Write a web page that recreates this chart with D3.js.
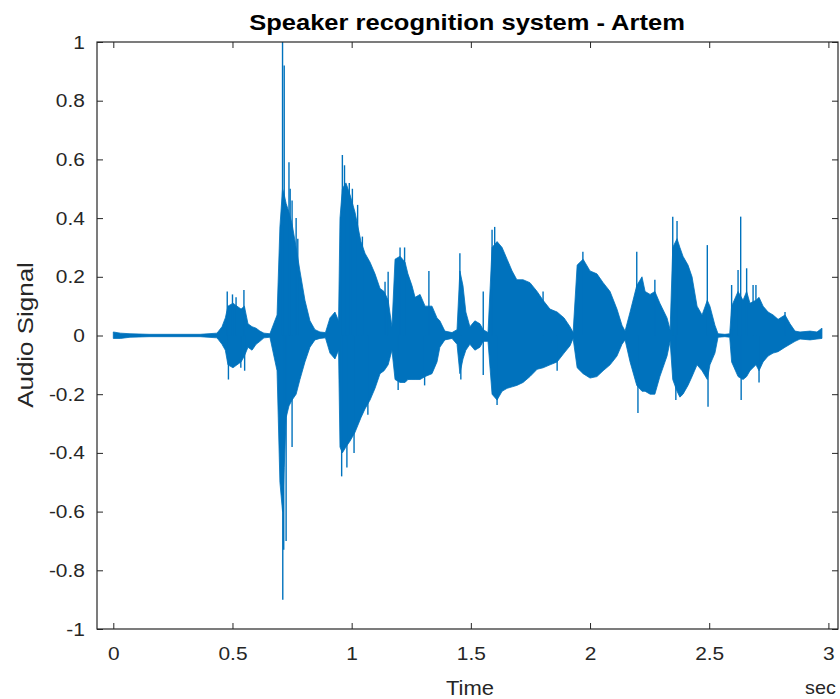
<!DOCTYPE html>
<html lang="en">
<head>
    <meta charset="UTF-8">
    <title>Speaker recognition system - Artem</title>
    <script src="https://d3js.org/d3.v7.min.js"></script>
    <style>
        body { margin: 0; background: #fff; }
        svg { display: block; font-family: "Liberation Sans", Arial, sans-serif; }
    </style>
</head>
<body>

<svg class="canvas" width="840" height="699"></svg>

<script>

    // envelope of the recording (seconds, max, min)
    var envTime = [0, 0.03, 0.07, 0.15, 0.28, 0.364, 0.435, 0.456, 0.47, 0.481,
        0.502, 0.519, 0.536, 0.55, 0.565, 0.582, 0.599, 0.615, 0.632, 0.657,
        0.687, 0.699, 0.71, 0.717, 0.725, 0.737, 0.75, 0.767, 0.783, 0.804,
        0.825, 0.846, 0.867, 0.89, 0.909, 0.93, 0.945, 0.951, 0.961, 0.976,
        0.993, 1.014, 1.039, 1.056, 1.077, 1.098, 1.119, 1.136, 1.153, 1.169,
        1.182, 1.203, 1.224, 1.236, 1.253, 1.266, 1.287, 1.308, 1.337, 1.358,
        1.37, 1.391, 1.421, 1.442, 1.454, 1.467, 1.479, 1.496, 1.517, 1.538,
        1.552, 1.572, 1.589, 1.61, 1.631, 1.652, 1.673, 1.693, 1.719, 1.748,
        1.778, 1.803, 1.832, 1.862, 1.891, 1.916, 1.929, 1.946, 1.971, 2.0,
        2.029, 2.055, 2.084, 2.113, 2.134, 2.147, 2.168, 2.196, 2.218, 2.231,
        2.252, 2.272, 2.293, 2.323, 2.336, 2.347, 2.365, 2.377, 2.39, 2.411,
        2.428, 2.449, 2.47, 2.492, 2.503, 2.524, 2.537, 2.566, 2.586, 2.594,
        2.621, 2.642, 2.657, 2.671, 2.696, 2.709, 2.726, 2.747, 2.768, 2.789,
        2.818, 2.839, 2.86, 2.881, 2.923, 2.952, 2.973];

    var envHigh = [0.012, 0.008, 0.006, 0.004, 0.004, 0.004, 0.008, 0.03, 0.06, 0.10,
        0.11, 0.10, 0.09, 0.10, 0.04, 0.03, 0.025, 0.015, 0.008, 0.006,
        0.07, 0.37, 0.50, 0.48, 0.45, 0.42, 0.38, 0.30, 0.22, 0.12,
        0.05, 0.02, 0.012, 0.01, 0.06, 0.08, 0.05, 0.40, 0.50, 0.52,
        0.48, 0.42, 0.32, 0.28, 0.25, 0.21, 0.16, 0.15, 0.12, 0.03,
        0.26, 0.27, 0.25, 0.21, 0.17, 0.13, 0.14, 0.10, 0.10, 0.06,
        0.05, 0.015, 0.01, 0.02, 0.22, 0.17, 0.08, 0.03, 0.05, 0.04,
        0.02, 0.01, 0.30, 0.32, 0.30, 0.26, 0.22, 0.19, 0.19, 0.18,
        0.15, 0.12, 0.09, 0.08, 0.06, 0.03, 0.01, 0.24, 0.26, 0.22,
        0.21, 0.18, 0.15, 0.09, 0.035, 0.015, 0.08, 0.17, 0.20, 0.15,
        0.14, 0.15, 0.11, 0.06, 0.02, 0.30, 0.33, 0.30, 0.27, 0.24,
        0.20, 0.10, 0.07, 0.12, 0.10, 0.035, 0.006, 0.004, 0.006, 0.10,
        0.15, 0.12, 0.15, 0.11, 0.12, 0.13, 0.10, 0.08, 0.07, 0.055,
        0.07, 0.04, 0.015, 0.012, 0.015, 0.012, 0.025];

    var envLow = [-0.01, -0.01, -0.006, -0.004, -0.004, -0.004, -0.008, -0.03, -0.05, -0.10,
        -0.11, -0.10, -0.09, -0.07, -0.04, -0.05, -0.03, -0.02, -0.008, -0.006,
        -0.12, -0.50, -0.60, -0.45, -0.28, -0.24, -0.22, -0.20, -0.15, -0.09,
        -0.04, -0.015, -0.01, -0.008, -0.06, -0.08, -0.05, -0.38, -0.40, -0.38,
        -0.36, -0.33, -0.28, -0.25, -0.22, -0.18, -0.13, -0.12, -0.10, -0.05,
        -0.15, -0.16, -0.16, -0.15, -0.15, -0.15, -0.15, -0.14, -0.13, -0.09,
        -0.04, -0.015, -0.01, -0.03, -0.13, -0.08, -0.05, -0.03, -0.05, -0.04,
        -0.02, -0.02, -0.20, -0.22, -0.19, -0.18, -0.175, -0.17, -0.16, -0.14,
        -0.115, -0.11, -0.10, -0.09, -0.06, -0.035, -0.01, -0.11, -0.13, -0.145,
        -0.14, -0.12, -0.10, -0.07, -0.03, -0.015, -0.09, -0.17, -0.19, -0.19,
        -0.20, -0.20, -0.14, -0.07, -0.02, -0.15, -0.19, -0.21, -0.20, -0.17,
        -0.14, -0.10, -0.12, -0.15, -0.10, -0.06, -0.006, -0.004, -0.006, -0.09,
        -0.14, -0.15, -0.14, -0.12, -0.10, -0.12, -0.09, -0.07, -0.06, -0.055,
        -0.04, -0.03, -0.02, -0.012, -0.015, -0.012, -0.01];

    // single samples that stick out of the envelope
    var peakTime = [0.478, 0.483, 0.500, 0.515, 0.535, 0.548, 0.551,
        0.710, 0.711, 0.715, 0.717, 0.725, 0.737, 0.742, 0.750, 0.750, 0.767, 0.774,
        0.958, 0.961, 0.970, 0.980, 0.990, 1.003, 1.010, 1.025, 1.045, 1.068,
        1.140, 1.153, 1.195, 1.203, 1.222, 1.306, 1.324, 1.454, 1.458,
        1.552, 1.552, 1.589, 1.600, 1.610, 1.803, 1.862, 1.970,
        2.196, 2.201, 2.272, 2.347, 2.360, 2.365, 2.492, 2.495,
        2.594, 2.621, 2.632, 2.634, 2.657, 2.684, 2.696, 2.709, 2.818];

    var peakValue = [0.15, -0.15, 0.14, 0.13, -0.11, 0.155, -0.12,
        1.0, -0.90, -0.73, 0.92, -0.70, 0.59, 0.5, -0.38, 0.46, 0.40, 0.33,
        -0.48, 0.615, 0.58, -0.45, 0.52, 0.50, -0.40, 0.445, 0.337, -0.27,
        0.183, 0.217, -0.186, 0.30, 0.30, -0.17, 0.22, 0.28, -0.15,
        0.15, -0.135, 0.36, 0.37, -0.237, 0.15, -0.12, 0.285,
        0.285, -0.264, 0.19, 0.405, -0.22, 0.39, 0.308, -0.243,
        0.172, 0.223, 0.405, -0.22, 0.229, 0.172, 0.172, -0.16, 0.08];

    var xTicks = [0, 0.5, 1, 1.5, 2, 2.5, 3];
    var yTicks = [-1, -0.8, -0.6, -0.4, -0.2, 0, 0.2, 0.4, 0.6, 0.8, 1];

    var titleText = "Speaker recognition system - Artem";
    var xLabel = "Time";
    var xUnit = "sec";
    var yLabel = "Audio Signal";

    var blue = "#0072bd";
    var axisColor = "#262626";
    var stretch = 1.1;   // the picture is a little wider than tall

    // plot box (window.top is taken, so the names carry a prefix)
    var boxLeft = 97, boxRight = 838, boxTop = 42, boxBottom = 629;

    var canvas = d3.select("svg");

    var x = d3.scaleLinear().domain([0, 3]).range([113.3, 828.4]);
    var y = d3.scaleLinear().domain([-1, 1]).range([boxBottom, boxTop]);

    var envelope = envTime.map(function (t, i) {
        return {t: t, hi: envHigh[i], lo: envLow[i]};
    });
    var peaks = peakTime.map(function (t, i) {
        return {t: t, v: peakValue[i]};
    });

    var plot = canvas.append("g");

    plot.append("path")
        .datum(envelope)
        .attr("fill", blue)
        .attr("stroke", blue)
        .attr("stroke-width", 0.8)
        .attr("d", d3.area()
            .x(function (d) { return x(d.t); })
            .y0(function (d) { return y(d.lo); })
            .y1(function (d) { return y(d.hi); }));

    plot.selectAll("line.peak")
        .data(peaks)
        .enter()
        .append("line")
        .attr("class", "peak")
        .attr("x1", function (d) { return x(d.t); })
        .attr("x2", function (d) { return x(d.t); })
        .attr("y1", y(0))
        .attr("y2", function (d) { return y(d.v); })
        .attr("stroke", blue)
        .attr("stroke-width", 1.4);

    function styleAxis(g) {
        g.select(".domain").remove();
        g.selectAll(".tick line").attr("stroke", axisColor);
        g.selectAll(".tick text")
            .attr("fill", axisColor)
            .style("font-size", "19px");
    }

    // bottom and left axes, ticks pointing in
    canvas.append("g")
        .attr("transform", "translate(0," + boxBottom + ")")
        .call(d3.axisBottom(x).tickValues(xTicks).tickSize(-6).tickPadding(18)
            .tickFormat(function (d) { return String(d); }))
        .call(styleAxis)
        .selectAll(".tick text")
        .attr("transform", "scale(" + stretch + ",1)");

    canvas.append("g")
        .attr("transform", "translate(" + boxLeft + ",0)")
        .call(d3.axisLeft(y).tickValues(yTicks).tickSize(-6).tickPadding(11)
            .tickFormat(function (d) { return String(d); }))
        .call(styleAxis)
        .selectAll(".tick text")
        .attr("transform", "scale(" + stretch + ",1)");

    // top and right: ticks only
    canvas.append("g")
        .attr("transform", "translate(0," + boxTop + ")")
        .call(d3.axisTop(x).tickValues(xTicks).tickSize(-6).tickFormat(""))
        .call(styleAxis);

    canvas.append("g")
        .attr("transform", "translate(" + boxRight + ",0)")
        .call(d3.axisRight(y).tickValues(yTicks).tickSize(-6).tickFormat(""))
        .call(styleAxis);

    canvas.append("rect")
        .attr("x", boxLeft)
        .attr("y", boxTop)
        .attr("width", boxRight - boxLeft)
        .attr("height", boxBottom - boxTop)
        .attr("fill", "none")
        .attr("stroke", axisColor)
        .attr("stroke-width", 1.2);

    canvas.append("text")
        .attr("transform", "translate(467,30) scale(1.16,1)")
        .attr("text-anchor", "middle")
        .style("font-size", "22px")
        .style("font-weight", "bold")
        .attr("fill", "#000")
        .text(titleText);

    canvas.append("text")
        .attr("transform", "translate(470,695) scale(" + stretch + ",1)")
        .attr("text-anchor", "middle")
        .style("font-size", "20px")
        .attr("fill", axisColor)
        .text(xLabel);

    canvas.append("text")
        .attr("transform", "translate(805,694) scale(" + stretch + ",1)")
        .attr("text-anchor", "start")
        .style("font-size", "18px")
        .attr("fill", axisColor)
        .text(xUnit);

    canvas.append("text")
        .attr("transform", "translate(33,335) rotate(-90) scale(1.18,1)")
        .attr("text-anchor", "middle")
        .style("font-size", "22px")
        .attr("fill", axisColor)
        .text(yLabel);

</script>
</body>
</html>
